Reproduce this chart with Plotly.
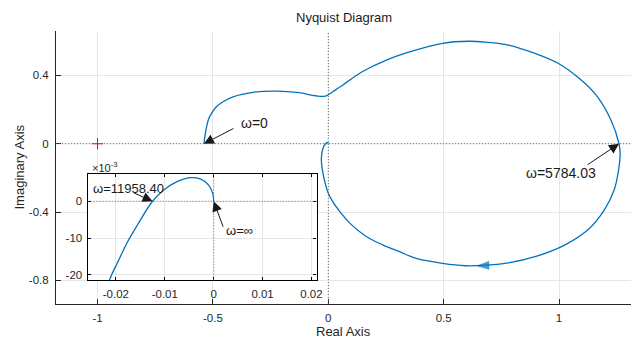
import plotly.graph_objects as go

# ---------------- data ----------------
re_vals = [-0.539, -0.530, -0.520, -0.506, -0.485, -0.456, -0.413, -0.327, -0.227,
           -0.127, -0.056, -0.013, 0.030, 0.059, 0.145, 0.252, 0.381, 0.495, 0.609,
           0.681, 0.781, 0.896, 0.996, 1.096, 1.167, 1.225, 1.260, 1.265, 1.258, 1.239,
           1.196, 1.124, 1.024, 0.896, 0.781, 0.667, 0.595, 0.495, 0.381, 0.309,
           0.238, 0.166, 0.094, 0.052, 0.022, 0.000, -0.020, -0.030, -0.027,
           -0.0213, -0.0196, -0.0176, -0.0156, -0.0125, -0.0102, -0.0075, -0.0048,
           -0.00275, -0.00107, -0.0002, 0.0]
im_vals = [0.000, 0.080, 0.139, 0.178, 0.217, 0.246, 0.275, 0.301, 0.308,
           0.299, 0.281, 0.279, 0.314, 0.340, 0.420, 0.490, 0.549, 0.588, 0.600,
           0.595, 0.578, 0.529, 0.471, 0.373, 0.275, 0.139, 0.000, -0.060, -0.154, -0.271,
           -0.388, -0.505, -0.593, -0.661, -0.697, -0.712, -0.714, -0.700, -0.671, -0.632,
           -0.593, -0.544, -0.466, -0.400, -0.345, -0.290, -0.193, -0.095, -0.050,
           -0.0214, -0.0165, -0.0110, -0.00646, 0.0, 0.00308, 0.00534, 0.00643,
           0.00608, 0.00444, 0.00218, 0.0]

crit_re = [-1.0]
crit_im = [0.0]

# direction arrow on the lower half of the locus (tail, tip)
dir_re = [0.70, 0.64]
dir_im = [-0.712, -0.715]

# labelled frequencies (main axes)
main_labels = ["ω=0", "ω=5784.03"]
main_pt_re = [-0.539, 1.26]
main_pt_im = [0.0, 0.0]
main_txt_re = [-0.3876, 0.85]
main_txt_im = [0.119, -0.173]
main_tail = [(31, -16), (-33, 22)]

# labelled frequencies (inset)
inset_labels = ["ω=11958.40", "ω=∞"]
inset_pt_re = [-0.0125, 0.0]
inset_pt_im = [0.0, 0.0]
inset_txt_re = [-0.02516, 0.00217]
inset_txt_im = [0.00335, -0.0080]
inset_tail = [(-20, -9), (10, 27)]

x_ticks = [-1, -0.5, 0, 0.5, 1]
x_ticktext = ["-1", "-0.5", "0", "0.5", "1"]
y_ticks = [-0.8, -0.4, 0, 0.4]
y_ticktext = ["-0.8", "-0.4", "0", "0.4"]
inset_x_ticks = [-0.02, -0.01, 0, 0.01, 0.02]
inset_x_ticktext = ["-0.02", "-0.01", "0", "0.01", "0.02"]
inset_y_ticks = [-0.02, -0.01, 0]
inset_y_ticktext = ["-20", "-10", "0"]

# ---------------- styling ----------------
BLUE = "#0072BD"
FONT = "Liberation Sans, Arial, Helvetica, sans-serif"
AX = "#262626"
GRID = "#e6e6e6"

fig = go.Figure()

fig.add_trace(go.Scatter(x=re_vals, y=im_vals, mode="lines", xaxis="x", yaxis="y",
                         line=dict(color=BLUE, width=1.3, shape="spline", smoothing=1.0),
                         hoverinfo="skip", showlegend=False))
fig.add_trace(go.Scatter(x=crit_re, y=crit_im, mode="markers", xaxis="x", yaxis="y",
                         marker=dict(symbol="cross-thin", size=8,
                                     line=dict(color="#ff0000", width=1)),
                         hoverinfo="skip", showlegend=False))
fig.add_trace(go.Scatter(x=dir_re, y=dir_im, mode="markers", xaxis="x", yaxis="y",
                         marker=dict(symbol="arrow", size=[0, 14], color=BLUE,
                                     angleref="previous", line=dict(width=0)),
                         hoverinfo="skip", showlegend=False))
fig.add_trace(go.Scatter(x=re_vals, y=im_vals, mode="lines", xaxis="x2", yaxis="y2",
                         line=dict(color=BLUE, width=1.3, shape="spline", smoothing=1.0),
                         hoverinfo="skip", showlegend=False))

tickfont = dict(family=FONT, size=11.5, color=AX)

fig.update_layout(
    width=638, height=340,
    margin=dict(l=56, r=1, t=31, b=36),
    paper_bgcolor="white", plot_bgcolor="white",
    font=dict(family=FONT, color=AX),
    showlegend=False,
    xaxis=dict(domain=[0, 1], range=[-1.18, 1.312], tickvals=x_ticks, ticktext=x_ticktext,
               showgrid=True, gridcolor=GRID, zeroline=False, showline=True,
               linecolor=AX, linewidth=1, ticks="inside", ticklen=5, tickcolor=AX,
               tickfont=tickfont, ticklabelstandoff=3, fixedrange=True),
    yaxis=dict(domain=[0, 1], range=[-0.938, 0.66], tickvals=y_ticks, ticktext=y_ticktext,
               showgrid=True, gridcolor=GRID, zeroline=False, showline=True,
               linecolor=AX, linewidth=1, ticks="inside", ticklen=5, tickcolor=AX,
               tickfont=tickfont, ticklabelstandoff=4, fixedrange=True),
    xaxis2=dict(domain=[0.0551, 0.4532], anchor="y2", range=[-0.02577, 0.02105],
                tickvals=inset_x_ticks, ticktext=inset_x_ticktext,
                showgrid=True, gridcolor=GRID, zeroline=False, showline=True, mirror="ticks",
                linecolor="black", linewidth=1.3, ticks="inside", ticklen=3, tickcolor="black",
                tickfont=tickfont, ticklabelstandoff=3, fixedrange=True),
    yaxis2=dict(domain=[0.0868, 0.4773], anchor="x2", range=[-0.0215, 0.0075],
                tickvals=inset_y_ticks, ticktext=inset_y_ticktext,
                showgrid=True, gridcolor=GRID, zeroline=False, showline=True, mirror="ticks",
                linecolor="black", linewidth=1.3, ticks="inside", ticklen=3, tickcolor="black",
                tickfont=tickfont, ticklabelstandoff=2, fixedrange=True),
)

# dotted real / imaginary axis lines
dot = dict(color="#707070", width=1, dash="1px,2px")
fig.add_shape(type="line", xref="x domain", x0=0, x1=1, yref="y", y0=0, y1=0, line=dot, layer="above")
fig.add_shape(type="line", yref="y domain", y0=0, y1=1, xref="x", x0=0, x1=0, line=dot, layer="above")
fig.add_shape(type="line", xref="x2 domain", x0=0, x1=1, yref="y2", y0=0, y1=0, line=dot, layer="above")
fig.add_shape(type="line", yref="y2 domain", y0=0, y1=1, xref="x2", x0=0, x1=0, line=dot, layer="above")

ann = []
# frequency arrows + labels
for lab, px, py, tx, ty, (axo, ayo) in zip(main_labels, main_pt_re, main_pt_im,
                                            main_txt_re, main_txt_im, main_tail):
    ann.append(dict(x=px, y=py, xref="x", yref="y", text="", showarrow=True,
                    ax=axo, ay=ayo, arrowhead=2, arrowsize=2, arrowwidth=1,
                    arrowcolor="#1a1a1a", standoff=0))
    ann.append(dict(x=tx, y=ty, xref="x", yref="y", text=lab, showarrow=False,
                    xanchor="left", yanchor="middle",
                    font=dict(family=FONT, size=14, color="#1a1a1a")))
for lab, px, py, tx, ty, (axo, ayo) in zip(inset_labels, inset_pt_re, inset_pt_im,
                                            inset_txt_re, inset_txt_im, inset_tail):
    ann.append(dict(x=px, y=py, xref="x2", yref="y2", text="", showarrow=True,
                    ax=axo, ay=ayo, arrowhead=2, arrowsize=2, arrowwidth=1,
                    arrowcolor="#1a1a1a", standoff=0))
    ann.append(dict(x=tx, y=ty, xref="x2", yref="y2", text=lab, showarrow=False,
                    xanchor="left", yanchor="middle",
                    font=dict(family=FONT, size=13, color="#1a1a1a")))

# titles
ann.append(dict(x=0.5, y=1, xref="paper", yref="paper", text="Nyquist Diagram",
                showarrow=False, yanchor="middle", yshift=14,
                font=dict(family=FONT, size=13, color="#1a1a1a")))
ann.append(dict(x=0.5, y=0, xref="paper", yref="paper", text="Real Axis",
                showarrow=False, yanchor="middle", yshift=-27,
                font=dict(family=FONT, size=13, color=AX)))
ann.append(dict(x=0, y=0.5, xref="paper", yref="paper", text="Imaginary Axis",
                showarrow=False, xanchor="center", yanchor="middle", xshift=-37,
                textangle=-90, font=dict(family=FONT, size=13, color=AX)))
ann.append(dict(x=0.0585, y=0.502, xref="paper", yref="paper", text="×10<sup>-3</sup>",
                showarrow=False, xanchor="left", yanchor="middle",
                font=dict(family=FONT, size=11, color=AX)))

fig.update_layout(annotations=ann)
# remove the browser's default 8px page margin so the figure fills the window exactly
fig.write_html("out.html", config={"displayModeBar": False},
               post_script="document.body.style.margin='0px';")
